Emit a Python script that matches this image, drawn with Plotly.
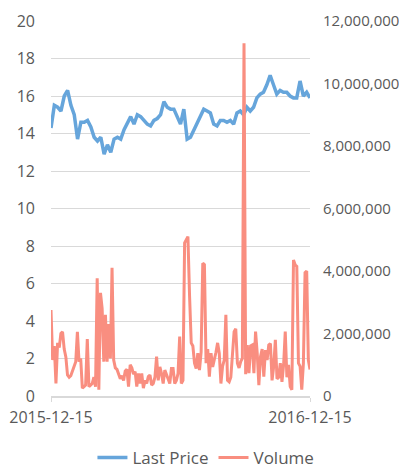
import pandas as pd
import plotly.graph_objects as go

start_label = "2015-12-15"
end_label = "2016-12-15"

price = [14.3, 15.5, 15.4, 15.2, 16.0, 16.3, 15.5, 15.0, 13.7, 14.6, 14.6, 14.7, 14.35, 13.8,
         13.6, 13.8, 12.9, 13.4, 13.0, 13.7, 13.8, 13.7, 14.2, 14.6, 14.9, 14.5, 15.0, 14.9,
         14.7, 14.5, 14.4, 14.7, 14.8, 15.0, 15.7, 15.4, 15.3, 15.3, 14.9, 14.5, 15.3, 13.7,
         13.8, 14.2, 14.5, 14.9, 15.3, 15.2, 15.1, 14.5, 14.4, 14.7, 14.7, 14.6, 14.7, 14.5,
         15.1, 15.2, 15.0, 15.4, 15.2, 15.4, 15.9, 16.1, 16.2, 16.6, 17.1, 16.6, 16.1, 16.3,
         16.2, 16.2, 16.0, 15.9, 15.9, 16.8, 16.0, 16.2, 15.9]

volume_m = [2.75, 1.15, 1.6, 0.4, 1.7, 1.55, 2.0, 2.05, 1.5, 1.25, 0.67, 0.6, 0.65, 0.8, 0.9,
            1.1, 2.05, 1.1, 1.2, 0.25, 0.3, 0.35, 1.82, 0.3, 0.35, 0.4, 0.6, 0.3,
            3.77, 0.2, 3.3, 2.8, 1.1, 2.6, 1.1, 2.3, 1.2, 4.1,
            1.15, 0.9, 0.85, 0.7, 0.55, 0.65, 0.5, 0.8, 0.85, 0.3, 1.0, 0.9, 0.7,
            0.78, 0.3, 0.72, 0.4, 0.72, 0.25, 0.5, 0.4, 0.62, 0.67, 0.35, 0.4, 0.6, 1.26, 0.5,
            0.93, 0.72, 0.4, 0.83, 0.67, 0.5, 0.4, 0.88, 0.88, 0.4, 0.5, 0.72, 1.9, 0.4, 0.5,
            4.9, 5.0, 5.1, 3.2, 1.7, 1.6, 1.05, 0.88, 1.37, 0.83, 1.4, 4.25, 4.2, 1.05,
            1.5, 0.62, 1.37, 0.93, 1.15, 1.4, 1.7,
            1.37, 0.4, 0.95, 1.15, 2.6, 0.5, 0.45, 0.6, 1.37, 2.06, 2.15, 1.05, 0.9, 1.1, 1.2,
            11.29, 0.7, 1.63, 0.73, 1.6, 1.63, 0.73, 2.06, 1.37, 0.35, 1.26, 1.5, 0.62, 1.47,
            1.15, 1.63, 1.68, 0.5, 0.95, 1.8, 0.55, 0.6, 1.05, 0.45, 1.0, 2.06, 0.6, 1.0, 0.3,
            0.2, 4.35, 4.2, 4.15, 1.05, 0.95, 0.2, 1.05, 3.95, 4.0, 1.15, 0.85]

volume = [v * 1_000_000 for v in volume_m]

price_dates = pd.date_range(start_label, end_label, periods=len(price))
volume_dates = pd.date_range(start_label, end_label, periods=len(volume))

font_family = "Open Sans, Lato, sans-serif"
text_color = "#595959"
grid_color = "#d9d9d9"
fs = 15

fig = go.Figure()
fig.add_trace(go.Scatter(x=price_dates, y=price, name="Last Price", mode="lines",
                         line=dict(color="#66A5DB", width=3.5), yaxis="y"))
fig.add_trace(go.Scatter(x=volume_dates, y=volume, name="Volume", mode="lines",
                         line=dict(color="#F98E80", width=3), yaxis="y2"))

fig.update_layout(
    width=399, height=460,
    margin=dict(l=43, r=97, t=13, b=72, autoexpand=False),
    paper_bgcolor="white", plot_bgcolor="white",
    font=dict(family=font_family, size=fs, color=text_color),
    showlegend=True,
    legend=dict(orientation="h", x=0.16, xanchor="left", y=-0.165, yanchor="middle",
                font=dict(size=17, color=text_color), itemwidth=30),
    xaxis=dict(type="date", range=[start_label, end_label],
               tickvals=[start_label, end_label], ticktext=[start_label, end_label],
               showgrid=False, zeroline=False, showline=True, linecolor=grid_color,
               linewidth=1.5, ticks="outside", ticklen=4, tickcolor=grid_color,
               ticklabelstandoff=2, automargin=False,
               tickfont=dict(size=fs + 1, color=text_color)),
    yaxis=dict(range=[0, 20], dtick=2, showgrid=True, gridcolor=grid_color, gridwidth=1,
               zeroline=False, showline=False, ticklabelstandoff=15, automargin=False,
               tickfont=dict(size=fs + 1, color=text_color)),
    yaxis2=dict(range=[0, 12_000_000], dtick=2_000_000, overlaying="y", side="right",
                showgrid=False, zeroline=False, showline=False, tickformat=",d",
                ticklabelstandoff=12, automargin=False,
                tickfont=dict(size=fs, color=text_color)),
)

fig.write_html("out.html")
